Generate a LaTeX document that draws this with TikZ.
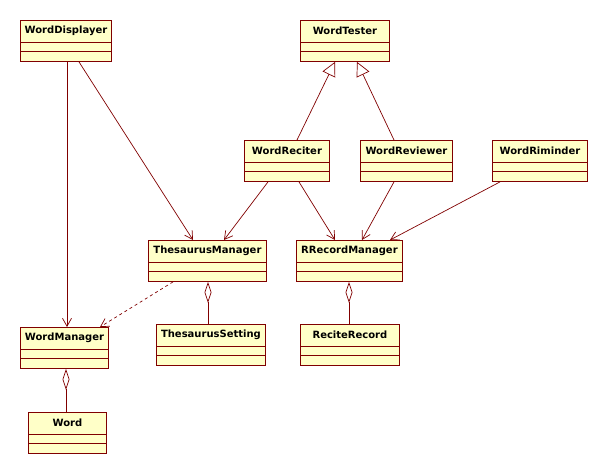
\documentclass[tikz,border=0pt]{standalone}
\usepackage{fontspec}
\setsansfont{DejaVu Sans}
\usepackage{tikz}
\usepackage{xcolor}
\usetikzlibrary{arrows.meta}

\definecolor{umlred}{RGB}{128,0,0}
\definecolor{umlfill}{RGB}{255,255,200}

% class box with two empty compartments
\newcommand{\umlclass}[4]{%
    \node[cls, minimum width=#3] (#1) at (#2) {};
    \node[clsname] (#1-name) at ([yshift=-11pt]#1.north) {#4};
    \draw[umlred, line width=0.9pt] ([yshift=-22pt]#1.north west) -- ([yshift=-22pt]#1.north east);
    \draw[umlred, line width=0.9pt] ([yshift=-31pt]#1.north west) -- ([yshift=-31pt]#1.north east);
}

\begin{document}
\begin{tikzpicture}[x=1pt, y=-1pt,
    cls/.style={rectangle, draw=umlred, fill=umlfill, line width=0.9pt, inner sep=0pt, minimum height=41pt, anchor=north west},
    clsname/.style={inner sep=0pt, font=\fontsize{10}{12}\selectfont\sffamily\bfseries},
    assoc/.style={draw=umlred, line width=0.7pt, -{Straight Barb[length=8pt,width=9pt]}},
    dep/.style={assoc, dashed},
    inherit/.style={draw=umlred, line width=0.7pt, -{Triangle[open,length=14pt,width=14pt]}},
    agg/.style={draw=umlred, line width=0.7pt, {Diamond[open,length=21pt,width=7pt]}-}]

    \useasboundingbox (0,0) rectangle (608,474);

    % Classes
    \umlclass{disp}{20,20}{91pt}{WordDisplayer}
    \umlclass{tester}{300,20}{89pt}{WordTester}
    \umlclass{reciter}{244,140}{85pt}{WordReciter}
    \umlclass{reviewer}{360,140}{92pt}{WordReviewer}
    \umlclass{riminder}{492,140}{95pt}{WordRiminder}
    \umlclass{thes}{148,240}{118pt}{ThesaurusManager}
    \umlclass{rrec}{296,240}{106pt}{RRecordManager}
    \umlclass{tset}{156,324}{109pt}{ThesaurusSetting}
    \umlclass{recrec}{300,324}{99pt}{ReciteRecord}
    \umlclass{wman}{20,327}{88pt}{WordManager}
    \umlclass{word}{28,412}{78pt}{Word}

    % Inheritance
    \draw[inherit] ([xshift=53pt]reciter.north west) -- ([xshift=35pt]tester.south west);
    \draw[inherit] ([xshift=34pt]reviewer.north west) -- ([xshift=57pt]tester.south west);

    % Associations
    \draw[assoc] ([xshift=47pt]disp.south west) -- ([xshift=47pt]wman.north west);
    \draw[assoc] ([xshift=59pt]disp.south west) -- ([xshift=45pt]thes.north west);
    \draw[assoc] ([xshift=24pt]reciter.south west) -- ([xshift=76pt]thes.north west);
    \draw[assoc] ([xshift=55pt]reciter.south west) -- ([xshift=39pt]rrec.north west);
    \draw[assoc] ([xshift=34pt]reviewer.south west) -- ([xshift=66pt]rrec.north west);
    \draw[assoc] ([xshift=8pt]riminder.south west) -- ([xshift=94pt]rrec.north west);
    \draw[dep] ([xshift=25pt]thes.south west) -- ([xshift=80pt]wman.north west);

    % Aggregations
    \draw[agg] ([xshift=60pt]thes.south west) -- ([xshift=52pt]tset.north west);
    \draw[agg] ([xshift=53pt]rrec.south west) -- ([xshift=49pt]recrec.north west);
    \draw[agg] ([xshift=46pt]wman.south west) -- ([xshift=38pt]word.north west);
\end{tikzpicture}
\end{document}
